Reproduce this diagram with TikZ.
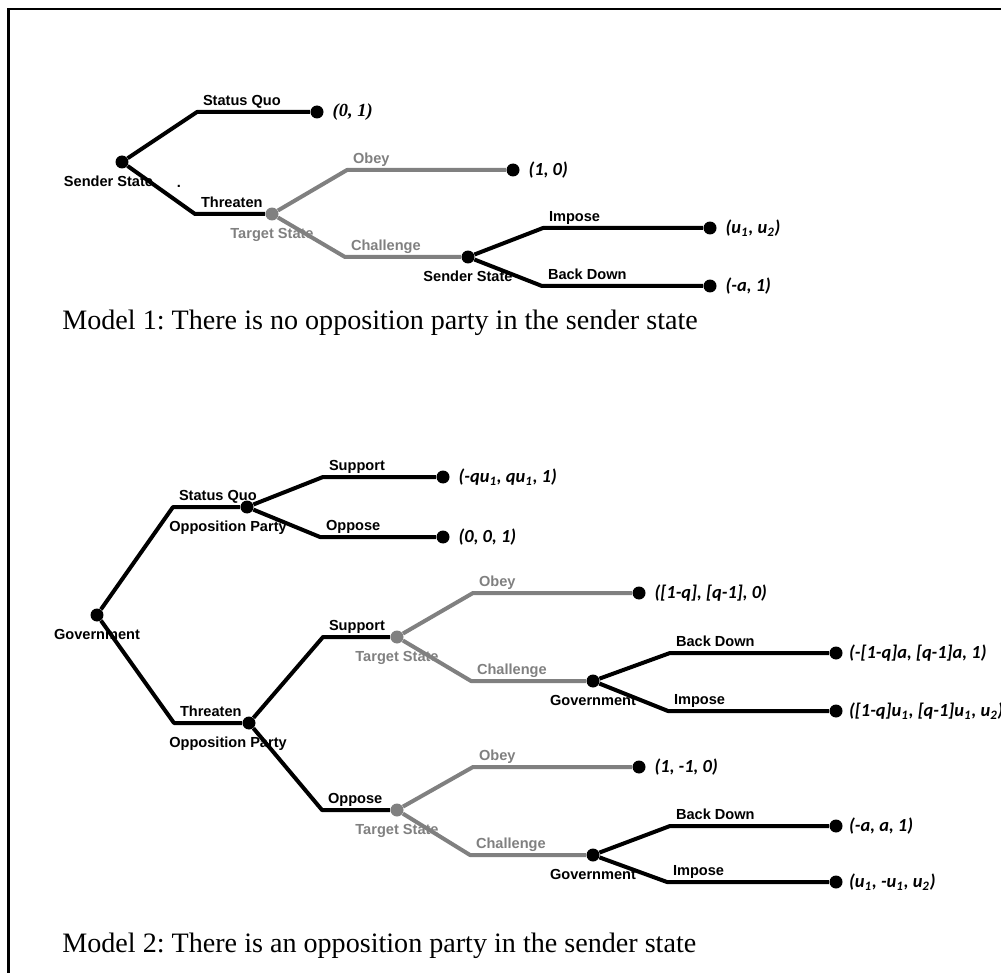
\documentclass[tikz,border=0pt]{standalone}
\usepackage{fontspec}
\setmainfont{Liberation Serif}
\setsansfont{Liberation Sans}
\newfontfamily\payfont{Carlito}
\usetikzlibrary{positioning}
\definecolor{movegray}{RGB}{128,128,128}
\frenchspacing

\begin{document}
\begin{tikzpicture}[x=0.02cm,y=-0.02cm,
  every node/.style={inner sep=0pt},
  dot/.style={circle,fill=black,minimum size=0.26cm},
  gdot/.style={dot,fill=movegray},
  move/.style={line width=0.08cm,line join=round},
  gmove/.style={move,draw=movegray},
  act/.style={font=\sffamily\bfseries\fontsize{8.3}{10}\selectfont,pos=0,anchor=base west,xshift=0.08cm,yshift=0.13cm},
  gact/.style={act,text=movegray},
  who/.style={font=\sffamily\bfseries\fontsize{8.3}{10}\selectfont},
  gwho/.style={who,text=movegray},
  pay/.style={font=\payfont\bfseries\itshape\fontsize{10.5}{12}\selectfont},
  spay/.style={font=\bfseries\itshape\fontsize{10.5}{12}\selectfont},
  caption/.style={font=\fontsize{16}{19}\selectfont,anchor=base west},
]
\useasboundingbox (0,0) rectangle (1001,973);
\draw[line width=0.05cm] (8.5,973) -- (8.5,9) -- (1001,9);

% model 1
\node[dot] (ss1) at (122,162) {};
\node[dot] (sq1) at (317,112) {};
\node[gdot] (ts1) at (272,214) {};
\node[dot] (ob1) at (513,170) {};
\node[dot] (ss2) at (468,257) {};
\node[dot] (im1) at (710,228) {};
\node[dot] (bd1) at (710,286) {};

\node[who,below=0.14cm of ss1,xshift=-0.27cm] (ss1lab) {Sender State};
\node[who] (stray) at (179,186) {.};
\node[gwho,below=0.14cm of ts1] (ts1lab) {Target State};
\node[who,below=0.14cm of ss2] (ss2lab) {Sender State};

\node[spay,right=0.17cm of sq1] (p1) {(0, 1)};
\node[pay,right=0.17cm of ob1] (p2) {(1, 0)};
\node[pay,right=0.17cm of im1] (p3) {(u\textsubscript{1}, u\textsubscript{2})};
\node[pay,right=0.17cm of bd1] (p4) {(-a, 1)};

\draw[move] (ss1) -- ++(75,-50) -- node[act] (sqlab1) {Status Quo} (sq1);
\draw[move] (ss1) -- ++(73,52) -- node[act] (thlab1) {Threaten} (ts1);
\draw[gmove] (ts1) -- ++(75,-44) -- node[gact] (oblab1) {Obey} (ob1);
\draw[gmove] (ts1) -- ++(73,43) -- node[gact] (chlab1) {Challenge} (ss2);
\draw[move] (ss2) -- ++(75,-29) -- node[act] (imlab1) {Impose} (im1);
\draw[move] (ss2) -- ++(74,29) -- node[act] (bdlab1) {Back Down} (bd1);

\node[caption] (cap1) at (62,330) {Model 1: There is no opposition party in the sender state};

% model 2
\node[dot] (g1) at (97,615) {};
\node[dot] (op1) at (247,507) {};
\node[dot] (op2) at (249,723) {};
\node[dot] (su1) at (443,477) {};
\node[dot] (oo1) at (443,537) {};
\node[gdot] (ts2) at (397,637) {};
\node[gdot] (ts3) at (397,810) {};
\node[dot] (ob2) at (639,593) {};
\node[dot] (g2) at (593,681) {};
\node[dot] (bd2) at (836,653) {};
\node[dot] (im2) at (836,711) {};
\node[dot] (ob3) at (639,767) {};
\node[dot] (g3) at (593,855) {};
\node[dot] (bd3) at (836,826) {};
\node[dot] (im3) at (836,882) {};

\node[who,below=0.14cm of g1] (g1lab) {Government};
\node[who,below=0.14cm of op1,xshift=-0.38cm] (op1lab) {Opposition Party};
\node[who,below=0.14cm of op2,xshift=-0.42cm] (op2lab) {Opposition Party};
\node[gwho,below=0.14cm of ts2] (ts2lab) {Target State};
\node[gwho,below=0.14cm of ts3] (ts3lab) {Target State};
\node[who,below=0.14cm of g2] (g2lab) {Government};
\node[who,below=0.14cm of g3] (g3lab) {Government};

\node[pay,right=0.17cm of su1] (q1) {(-qu\textsubscript{1}, qu\textsubscript{1}, 1)};
\node[pay,right=0.17cm of oo1] (q2) {(0, 0, 1)};
\node[pay,right=0.17cm of ob2] (q3) {([1-q], [q-1], 0)};
\node[pay,right=0.12cm of bd2] (q4) {(-[1-q]a, [q-1]a, 1)};
\node[pay,right=0.12cm of im2] (q5) {([1-q]u\textsubscript{1}, [q-1]u\textsubscript{1}, u\textsubscript{2})};
\node[pay,right=0.17cm of ob3] (q6) {(1, -1, 0)};
\node[pay,right=0.12cm of bd3] (q7) {(-a, a, 1)};
\node[pay,right=0.12cm of im3] (q8) {(u\textsubscript{1}, -u\textsubscript{1}, u\textsubscript{2})};

\draw[move] (g1) -- ++(76,-108) -- node[act] (sqlab2) {Status Quo} (op1);
\draw[move] (g1) -- ++(77,108) -- node[act] (thlab2) {Threaten} (op2);
\draw[move] (op1) -- ++(76,-30) -- node[act] (sulab1) {Support} (su1);
\draw[move] (op1) -- ++(73,30) -- node[act] (oplab1) {Oppose} (oo1);
\draw[move] (op2) -- ++(74,-86) -- node[act] (sulab2) {Support} (ts2);
\draw[move] (op2) -- ++(73,87) -- node[act] (oplab2) {Oppose} (ts3);
\draw[gmove] (ts2) -- ++(76,-44) -- node[gact] (oblab2) {Obey} (ob2);
\draw[gmove] (ts2) -- ++(74,44) -- node[gact] (chlab2) {Challenge} (g2);
\draw[move] (g2) -- ++(77,-28) -- node[act] (bdlab2) {Back Down} (bd2);
\draw[move] (g2) -- ++(75,30) -- node[act] (imlab2) {Impose} (im2);
\draw[gmove] (ts3) -- ++(76,-43) -- node[gact] (oblab3) {Obey} (ob3);
\draw[gmove] (ts3) -- ++(73,45) -- node[gact] (chlab3) {Challenge} (g3);
\draw[move] (g3) -- ++(77,-29) -- node[act] (bdlab3) {Back Down} (bd3);
\draw[move] (g3) -- ++(74,27) -- node[act] (imlab3) {Impose} (im3);

\node[caption] (cap2) at (62,952) {Model 2: There is an opposition party in the sender state};
\end{tikzpicture}
\end{document}
